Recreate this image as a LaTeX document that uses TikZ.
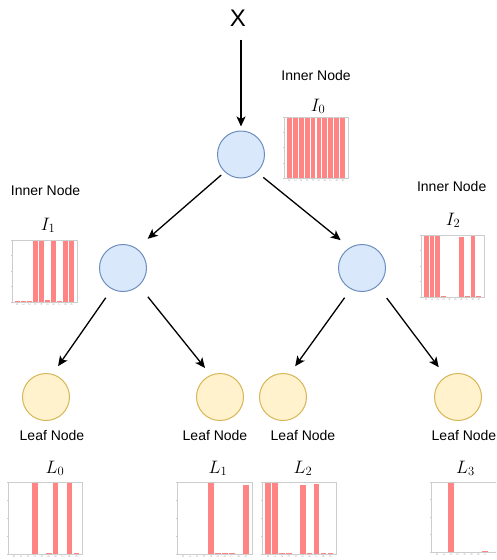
\documentclass[tikz,border=0pt]{standalone}
\usepackage{fix-cm}
\usepackage{fontspec}
\setmainfont{Liberation Sans}
\usetikzlibrary{arrows.meta}

\definecolor{innerfill}{HTML}{DAE8FC}
\definecolor{innerline}{HTML}{6C8EBF}
\definecolor{leaffill}{HTML}{FFF2CC}
\definecolor{leafline}{HTML}{D6B656}
\definecolor{barpink}{RGB}{255,133,133}
\definecolor{framegray}{RGB}{205,205,205}
\definecolor{tickgray}{RGB}{150,150,150}

% bar chart: #1 left, #2 top, #3 width, #4 height, #5 bar heights (0..1)
\newcommand\histbars[5]{%
  \foreach \v [count=\i from 0] in {#5} {
    \pgfmathsetmacro\cx{#1+#3*(\i+0.89)/10.78}
    \pgfmathsetmacro\hw{0.41*#3/10.78}
    \fill[barpink] (\cx-\hw,#2+#4) rectangle (\cx+\hw,#2+#4-\v*#4);
    \pgfmathparse{\cx<490 ? 1 : 0}
    \ifnum\pgfmathresult=1
      \node[ticklbl] at (\cx,#2+#4+1.2) {\i};
    \fi
  }
  \foreach \t in {0,...,4}
    \draw[framegray, line width=0.5pt] (#1,#2+#4-\t*#4/4) -- ++(-1.5,0);
  \draw[framegray, line width=0.8pt] (#1,#2) rectangle (#1+#3,#2+#4);
}

\begin{document}
\begin{tikzpicture}[x=1pt,y=-1pt,
  innercirc/.style={circle, draw=innerline, fill=innerfill, line width=1pt,
    minimum size=47pt, inner sep=0pt},
  leafcirc/.style={circle, draw=leafline, fill=leaffill, line width=1pt,
    minimum size=47pt, inner sep=0pt},
  lbl/.style={font=\fontsize{14}{15}\selectfont, inner sep=1pt, anchor=base},
  mlbl/.style={font=\fontsize{18}{19}\selectfont, inner sep=1pt, anchor=base},
  ticklbl/.style={font=\fontsize{3}{3}\selectfont, text=tickgray, rotate=90,
    anchor=east, inner sep=0pt},
  arr/.style={-{Stealth[length=10pt,width=9pt,inset=2.5pt]}, line width=1.3pt}]
\useasboundingbox (0,0) rectangle (496,560);
\clip (0,0) rectangle (496,560);

% input
\node[font=\fontsize{24}{24}\selectfont, inner sep=1pt, anchor=base] (X) at (238,26.5) {X};

% tree nodes
\node[innercirc] (root) at (241,154.5) {};
\node[innercirc] (inL) at (123,268) {};
\node[innercirc] (inR) at (362,268) {};
\node[leafcirc] (lf0) at (46,397) {};
\node[leafcirc] (lf1) at (220,397) {};
\node[leafcirc] (lf2) at (283,397) {};
\node[leafcirc] (lf3) at (458,397) {};

% edges
\draw[arr, shorten <=12pt, shorten >=4pt] (root |- X.south) -- (root.north);
\draw[arr, shorten <=4.5pt, shorten >=14.5pt] (root.227) -- (inL.55);
\draw[arr, shorten <=8pt, shorten >=11.5pt] (root.312) -- (inR.121);
\draw[arr, shorten <=10.5pt, shorten >=9.5pt] (inL.242) -- (lf0.74);
\draw[arr, shorten <=14pt, shorten >=9pt] (inL.312) -- (lf1.113);
\draw[arr, shorten <=10.5pt, shorten >=9.5pt] (inR.242) -- (lf2.74);
\draw[arr, shorten <=15pt, shorten >=11.5pt] (inR.311) -- (lf3.121);

% inner node labels and histograms
\node[lbl] (t0) at (316,80) {Inner Node};
\node[mlbl] (m0) at (318,111) {$I_0$};
\histbars{284}{117}{64}{61}{1,1,1,1,1,1,1,1,1,1}

\node[lbl] (t1) at (45.5,195.5) {Inner Node};
\node[mlbl] (m1) at (48,230) {$I_1$};
\histbars{12}{240}{65}{62}{0.01,0.01,0.01,1,1,0.03,1,0.01,1,1}

\node[lbl] (t2) at (451.7,191) {Inner Node};
\node[mlbl] (m2) at (453,225) {$I_2$};
\histbars{421}{235}{63}{62}{1,1,1,0.02,0,0,0.97,0.01,1,0.02}

% leaf labels and histograms
\node[lbl] (u0) at (52,440) {Leaf Node};
\node[lbl] (u1) at (215,440) {Leaf Node};
\node[lbl] (u2) at (303,440) {Leaf Node};
\node[lbl] (u3) at (464,440) {Leaf Node};

\node[mlbl] (n0) at (55,473) {$L_0$};
\histbars{8}{482}{74.5}{72}{0,0,0,1,0,0.02,0.98,0,0.99,0.02}
\node[mlbl] (n1) at (218,473) {$L_1$};
\histbars{177}{482}{75}{72}{0,0,0,0,1,0.01,0.01,0.01,0,0.96}
\node[mlbl] (n2) at (303,473) {$L_2$};
\histbars{262}{482}{74.5}{72}{1,1,0.01,0.01,0,0.96,0.01,0.97,0.01,0.01}
\node[mlbl] (n3) at (465.5,473) {$L_3$};
\histbars{431}{482}{74}{70}{0,0,1,0,0,0,0,0.01,0,0}
\end{tikzpicture}
\end{document}
